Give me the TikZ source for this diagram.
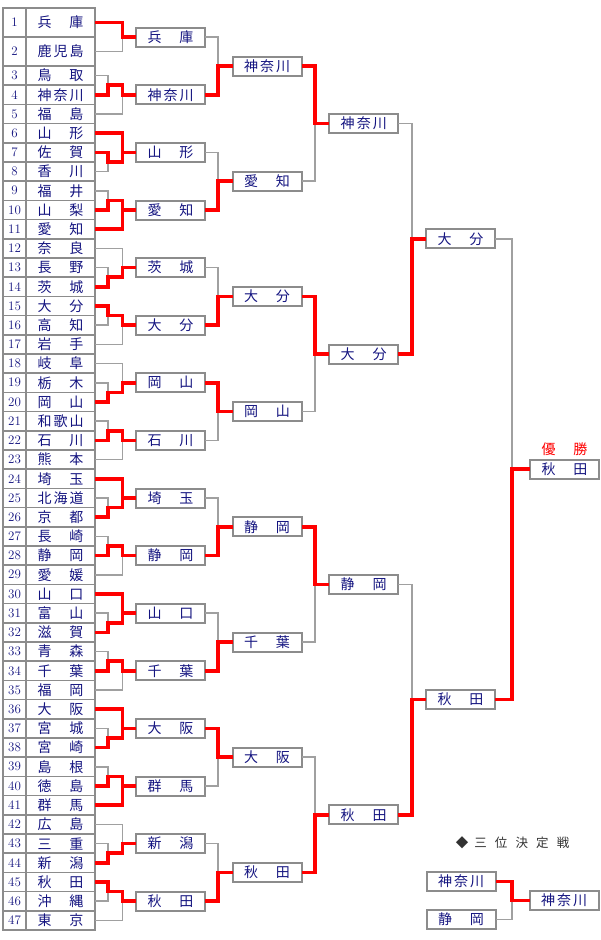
\documentclass[tikz,border=0pt]{standalone}
\usepackage{fontspec}
\newfontfamily\jp{Noto Sans CJK JP}
\usetikzlibrary{calc}
\definecolor{kon}{RGB}{20,20,128}
\definecolor{sen}{RGB}{160,160,160}
\definecolor{waku}{RGB}{140,140,140}
\definecolor{sumi}{RGB}{50,50,50}
\newcommand\nm[1]{\makebox[46pt][s]{#1}}

\begin{document}
\begin{tikzpicture}[x=1pt,y=-1pt,
  cell/.style={draw=waku,line width=1.5pt,inner sep=0pt,outer sep=0pt,text=kon},
  namecell/.style={cell,minimum width=69pt,font=\jp\fontsize{14}{14}\selectfont},
  numcell/.style={cell,minimum width=23pt,font=\fontsize{13}{13}\selectfont},
  win/.style={draw=waku,line width=2pt,fill=white,minimum width=69pt,minimum height=19pt,
    inner sep=0pt,outer sep=0pt,text=kon,font=\jp\fontsize{14}{14}\selectfont},
  gline/.style={sen,line width=1.5pt},
  rline/.style={red,line width=3.5pt,line join=miter}]
  \fill[white] (0,0) rectangle (600,940);
  % 表格
  \foreach \n [count=\i] in {兵 庫,鹿 児 島,鳥 取,神 奈 川,福 島,山 形,佐 賀,香 川,福 井,山 梨,
    愛 知,奈 良,長 野,茨 城,大 分,高 知,岩 手,岐 阜,栃 木,岡 山,和 歌 山,石 川,熊 本,埼 玉,
    北 海 道,京 都,長 崎,静 岡,愛 媛,山 口,富 山,滋 賀,青 森,千 葉,福 岡,大 阪,宮 城,宮 崎,
    島 根,徳 島,群 馬,広 島,三 重,新 潟,秋 田,沖 縄,東 京} {
    \ifnum\i<3 \def\h{29}\pgfmathsetmacro\yc{29*\i-6.5}%
    \else \def\h{19.2}\pgfmathsetmacro\yc{18+19.2*\i}\fi
    \node[numcell,minimum height=\h pt] (n\i) at (14.5,\yc) {\i};
    \node[namecell,minimum height=\h pt] (r\i) at (60.5,\yc) {\nm{\n}};
  }
  % 各轮
  \foreach \n [count=\i] in {兵 庫,神 奈 川,山 形,愛 知,茨 城,大 分,岡 山,石 川,
    埼 玉,静 岡,山 口,千 葉,大 阪,群 馬,新 潟,秋 田}
    \node[win] (a\i) at (170.5,{37.2+57.6*(\i-1)}) {\nm{\n}};
  \foreach \n [count=\i] in {神 奈 川,愛 知,大 分,岡 山,静 岡,千 葉,大 阪,秋 田}
    \node[win] (b\i) at (267,{-49.2+115.2*\i}) {\nm{\n}};
  \foreach \n [count=\i] in {神 奈 川,大 分,静 岡,秋 田}
    \node[win] (c\i) at (363.7,{-106.8+230.4*\i}) {\nm{\n}};
  \foreach \n [count=\i] in {大 分,秋 田}
    \node[win] (d\i) at (460.5,{-222+460.8*\i}) {\nm{\n}};
  \node[win] (f) at (564.5,469.2) {\nm{秋 田}};
  \node[text=red,font=\jp\fontsize{14}{14}\selectfont] (yu) at (564.5,449) {\nm{優 勝}};
  % 三位决定战
  \node[text=sumi,font=\jp\fontsize{12.5}{14}\selectfont] (ttl) at (512.5,843)
    {◆\hspace{6pt}\makebox[95pt][s]{三 位 決 定 戦}};
  \node[win] (t1) at (461,881.5) {\nm{神 奈 川}};
  \node[win] (t2) at (461,919.5) {\nm{静 岡}};
  \node[win] (t3) at (564,900.5) {\nm{神 奈 川}};
  % 连线的竖线位置
  \coordinate (ja) at (108,0);
  \coordinate (jb) at (122.5,0);
  \coordinate (jc) at (218,0);
  \coordinate (jd) at (315,0);
  \coordinate (je) at (412,0);
  \coordinate (jf) at (512,0);
  % 第一轮
  \draw[gline] (r1.east) -- (r1.east -| jb) -- (r2.east -| jb) -- (r2.east);
  \draw[gline] (a1.west -| jb) -- (a1.west);
  \draw[rline] (r1.east) -- (r1.east -| jb) -- (a1.west -| jb) -- (a1.west);
  \foreach \i/\x/\y/\o/\w/\v in {2/3/4/5/4/0,3/7/8/6/7/1,4/9/10/11/10/1,5/13/14/12/14/0,
    6/15/16/17/15/0,7/19/20/18/20/0,8/21/22/23/22/0,9/25/26/24/26/1,10/27/28/29/28/0,
    11/31/32/30/32/1,12/33/34/35/34/0,13/37/38/36/38/1,14/39/40/41/40/1,15/43/44/42/44/0,
    16/45/46/47/45/0} {
    \coordinate (m\i) at ($(r\x.east)!.5!(r\y.east)$);
    \draw[gline] (r\x.east) -- (r\x.east -| ja) -- (r\y.east -| ja) -- (r\y.east);
    \draw[gline] (m\i -| ja) -- (m\i -| jb);
    \draw[gline] (r\o.east) -- (r\o.east -| jb) -- (m\i -| jb);
    \draw[gline] (a\i.west -| jb) -- (a\i.west);
    \draw[rline] (r\w.east) -- (r\w.east -| ja) -- (m\i -| ja) -- (m\i -| jb)
      -- (a\i.west -| jb) -- (a\i.west);
    \ifnum\v=1 \draw[rline] (r\o.east) -- (r\o.east -| jb) -- (a\i.west -| jb);\fi
  }
  % 之后各轮
  \foreach \u/\v/\t/\w/\j in {a1/a2/b1/a2/jc,a3/a4/b2/a4/jc,a5/a6/b3/a6/jc,a7/a8/b4/a7/jc,
    a9/a10/b5/a10/jc,a11/a12/b6/a12/jc,a13/a14/b7/a13/jc,a15/a16/b8/a16/jc,
    b1/b2/c1/b1/jd,b3/b4/c2/b3/jd,b5/b6/c3/b5/jd,b7/b8/c4/b8/jd,
    c1/c2/d1/c2/je,c3/c4/d2/c4/je,d1/d2/f/d2/jf,t1/t2/t3/t1/jf} {
    \draw[gline] (\u.east) -- (\u.east -| \j) -- (\v.east -| \j) -- (\v.east);
    \draw[gline] (\t.west -| \j) -- (\t.west);
    \draw[rline] (\w.east) -- (\w.east -| \j) -- (\t.west -| \j) -- (\t.west);
  }
\end{tikzpicture}
\end{document}
